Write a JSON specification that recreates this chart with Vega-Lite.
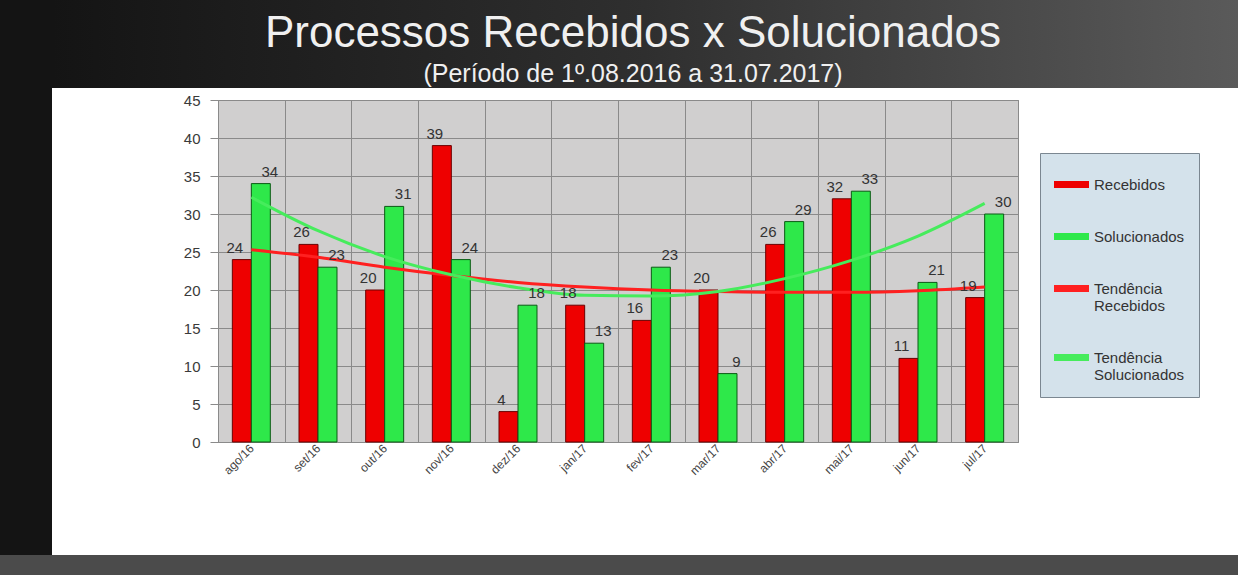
{
  "$schema": "https://vega.github.io/schema/vega-lite/v6.json",
  "background": "white",
  "padding": 0,
  "spacing": 0,
  "align": "none",
  "config": {"font": "Liberation Sans", "view": {"stroke": null}},
  "datasets": {
    "titulo": [
      {"texto": "Processos Recebidos x Solucionados", "nivel": "titulo"},
      {"texto": "(Período de 1º.08.2016  a  31.07.2017)", "nivel": "subtitulo"}
    ],
    "barras": [
      {"mes": "ago/16", "serie": "Recebidos", "valor": 24},
      {"mes": "set/16", "serie": "Recebidos", "valor": 26},
      {"mes": "out/16", "serie": "Recebidos", "valor": 20},
      {"mes": "nov/16", "serie": "Recebidos", "valor": 39},
      {"mes": "dez/16", "serie": "Recebidos", "valor": 4},
      {"mes": "jan/17", "serie": "Recebidos", "valor": 18},
      {"mes": "fev/17", "serie": "Recebidos", "valor": 16},
      {"mes": "mar/17", "serie": "Recebidos", "valor": 20},
      {"mes": "abr/17", "serie": "Recebidos", "valor": 26},
      {"mes": "mai/17", "serie": "Recebidos", "valor": 32},
      {"mes": "jun/17", "serie": "Recebidos", "valor": 11},
      {"mes": "jul/17", "serie": "Recebidos", "valor": 19},
      {"mes": "ago/16", "serie": "Solucionados", "valor": 34},
      {"mes": "set/16", "serie": "Solucionados", "valor": 23},
      {"mes": "out/16", "serie": "Solucionados", "valor": 31},
      {"mes": "nov/16", "serie": "Solucionados", "valor": 24},
      {"mes": "dez/16", "serie": "Solucionados", "valor": 18},
      {"mes": "jan/17", "serie": "Solucionados", "valor": 13},
      {"mes": "fev/17", "serie": "Solucionados", "valor": 23},
      {"mes": "mar/17", "serie": "Solucionados", "valor": 9},
      {"mes": "abr/17", "serie": "Solucionados", "valor": 29},
      {"mes": "mai/17", "serie": "Solucionados", "valor": 33},
      {"mes": "jun/17", "serie": "Solucionados", "valor": 21},
      {"mes": "jul/17", "serie": "Solucionados", "valor": 30}
    ],
    "tendencia": [
      {"mes": "ago/16", "serie": "Tendência Recebidos", "valor": 25.3},
      {"mes": "set/16", "serie": "Tendência Recebidos", "valor": 24.3},
      {"mes": "out/16", "serie": "Tendência Recebidos", "valor": 23.0},
      {"mes": "nov/16", "serie": "Tendência Recebidos", "valor": 21.9},
      {"mes": "dez/16", "serie": "Tendência Recebidos", "valor": 21.0},
      {"mes": "jan/17", "serie": "Tendência Recebidos", "valor": 20.4},
      {"mes": "fev/17", "serie": "Tendência Recebidos", "valor": 20.0},
      {"mes": "mar/17", "serie": "Tendência Recebidos", "valor": 19.8},
      {"mes": "abr/17", "serie": "Tendência Recebidos", "valor": 19.7},
      {"mes": "mai/17", "serie": "Tendência Recebidos", "valor": 19.7},
      {"mes": "jun/17", "serie": "Tendência Recebidos", "valor": 19.9},
      {"mes": "jul/17", "serie": "Tendência Recebidos", "valor": 20.4},
      {"mes": "ago/16", "serie": "Tendência Solucionados", "valor": 32.2},
      {"mes": "set/16", "serie": "Tendência Solucionados", "valor": 27.8},
      {"mes": "out/16", "serie": "Tendência Solucionados", "valor": 24.4},
      {"mes": "nov/16", "serie": "Tendência Solucionados", "valor": 22.0},
      {"mes": "dez/16", "serie": "Tendência Solucionados", "valor": 20.3},
      {"mes": "jan/17", "serie": "Tendência Solucionados", "valor": 19.3},
      {"mes": "fev/17", "serie": "Tendência Solucionados", "valor": 19.2},
      {"mes": "mar/17", "serie": "Tendência Solucionados", "valor": 19.8},
      {"mes": "abr/17", "serie": "Tendência Solucionados", "valor": 21.5},
      {"mes": "mai/17", "serie": "Tendência Solucionados", "valor": 23.9},
      {"mes": "jun/17", "serie": "Tendência Solucionados", "valor": 27.1},
      {"mes": "jul/17", "serie": "Tendência Solucionados", "valor": 31.4}
    ]
  },
  "vconcat": [
    {
      "hconcat": [
        {
          "width": 52,
          "height": 555,
          "view": {"fill": "#141414", "stroke": null},
          "data": {"values": []},
          "mark": "rect"
        },
        {
          "vconcat": [
            {
              "width": 1186,
              "height": 88,
              "view": {
                "stroke": null,
                "fill": {
                  "gradient": "linear",
                  "x1": 0, "y1": 0, "x2": 1, "y2": 0,
                  "stops": [
                    {"offset": 0, "color": "#141414"},
                    {"offset": 0.5, "color": "#2f2f2f"},
                    {"offset": 1, "color": "#5a5a5a"}
                  ]
                }
              },
              "data": {"name": "titulo"},
              "mark": {"type": "text", "color": "#f0f0f0", "baseline": "middle", "align": "center", "dx": -12},
              "encoding": {
                "text": {"field": "texto"},
                "y": {
                  "field": "nivel",
                  "type": "nominal",
                  "sort": ["titulo", "subtitulo"],
                  "scale": {"type": "point", "padding": 0.6, "align": 0.708},
                  "axis": null
                },
                "size": {
                  "field": "nivel",
                  "type": "nominal",
                  "scale": {"domain": ["titulo", "subtitulo"], "range": [44, 25]},
                  "legend": null
                }
              }
            },
            {
              "hconcat": [
                {
                  "width": 166,
                  "height": 443,
                  "view": {"fill": null, "stroke": null},
                  "data": {"values": []},
                  "mark": "rect"
                },
                {
                  "width": 800,
                  "height": 342,
                  "view": {"fill": "#d0cfcf", "stroke": "#7f7f7f"},
                  "encoding": {
                    "x": {
                      "field": "mes",
                      "type": "nominal",
                      "sort": ["ago/16", "set/16", "out/16", "nov/16", "dez/16", "jan/17", "fev/17", "mar/17", "abr/17", "mai/17", "jun/17", "jul/17"],
                      "scale": {"paddingInner": 0, "paddingOuter": 0},
                      "axis": {
                        "title": null,
                        "labelAngle": -45,
                        "labelAlign": "right",
                        "labelBaseline": "middle",
                        "labelFontSize": 12,
                        "labelColor": "#444444",
                        "labelPadding": 4,
                        "tickBand": "extent",
                        "grid": true,
                        "gridColor": "#8a8a8a",
                        "ticks": false,
                        "domain": false
                      }
                    },
                    "y": {
                      "field": "valor",
                      "type": "quantitative",
                      "scale": {"domain": [0, 45], "nice": false},
                      "axis": {
                        "title": null,
                        "values": [0, 5, 10, 15, 20, 25, 30, 35, 40, 45],
                        "grid": true,
                        "gridColor": "#8a8a8a",
                        "domain": false,
                        "tickSize": 8,
                        "tickColor": "#8a8a8a",
                        "labelFontSize": 15,
                        "labelColor": "#3a3a3a",
                        "labelPadding": 10
                      }
                    }
                  },
                  "layer": [
                    {
                      "data": {"name": "barras"},
                      "mark": {"type": "bar", "strokeWidth": 1},
                      "encoding": {
                        "xOffset": {
                          "field": "serie",
                          "sort": ["Recebidos", "Solucionados"],
                          "scale": {"paddingOuter": 0.755, "paddingInner": 0}
                        },
                        "color": {
                          "field": "serie",
                          "type": "nominal",
                          "scale": {
                            "domain": ["Recebidos", "Solucionados", "Tendência Recebidos", "Tendência Solucionados"],
                            "range": ["#ee0000", "#2ee84a", "#ff2020", "#46ec5c"]
                          },
                          "legend": {
                            "orient": "none",
                            "legendX": 1040,
                            "legendY": 153,
                            "title": null,
                            "symbolType": "M-1,-0.2H1V0.2H-1Z",
                            "symbolSize": 1225,
                            "labelFontSize": 15,
                            "labelColor": "#333333",
                            "labelOffset": 5,
                            "rowPadding": 26,
                            "padding": 14,
                            "fillColor": "#d4e2eb",
                            "strokeColor": "#7b8791",
                            "labelExpr": "datum.label == 'Tendência Recebidos' ? ['Tendência', 'Recebidos'] : datum.label == 'Tendência Solucionados' ? ['Tendência', 'Solucionados'] : datum.label",
                            "encode": {
                              "symbols": {
                                "update": {
                                  "fill": {"scale": "color", "field": "value"},
                                  "stroke": {"value": "transparent"},
                                  "strokeWidth": {"value": 0},
                                  "opacity": {"value": 1}
                                }
                              }
                            }
                          }
                        },
                        "stroke": {
                          "field": "serie",
                          "type": "nominal",
                          "scale": {"domain": ["Recebidos", "Solucionados"], "range": ["#6a0000", "#0a5a14"]},
                          "legend": null
                        }
                      }
                    },
                    {
                      "data": {"name": "tendencia"},
                      "mark": {"type": "line", "strokeWidth": 3, "interpolate": "monotone"},
                      "encoding": {
                        "color": {"field": "serie", "type": "nominal"}
                      }
                    },
                    {
                      "data": {"name": "barras"},
                      "transform": [{"filter": "datum.serie == 'Recebidos'"}],
                      "mark": {"type": "text", "baseline": "bottom", "dx": -7, "dy": -4, "fontSize": 15, "color": "#333333"},
                      "encoding": {
                        "xOffset": {"field": "serie", "sort": ["Recebidos", "Solucionados"]},
                        "text": {"field": "valor", "type": "quantitative"}
                      }
                    },
                    {
                      "data": {"name": "barras"},
                      "transform": [{"filter": "datum.serie == 'Solucionados'"}],
                      "mark": {"type": "text", "baseline": "bottom", "dx": 9, "dy": -4, "fontSize": 15, "color": "#333333"},
                      "encoding": {
                        "xOffset": {"field": "serie", "sort": ["Recebidos", "Solucionados"]},
                        "text": {"field": "valor", "type": "quantitative"}
                      }
                    }
                  ]
                }
              ],
              "spacing": 0,
              "bounds": "flush",
              "align": "none"
            }
          ],
          "spacing": 12,
          "bounds": "flush",
          "align": "none"
        }
      ],
      "spacing": 0,
      "align": "none"
    },
    {
      "width": 1238,
      "height": 20,
      "view": {"fill": "#4b4b4b", "stroke": null},
      "data": {"values": []},
      "mark": "rect"
    }
  ]
}
